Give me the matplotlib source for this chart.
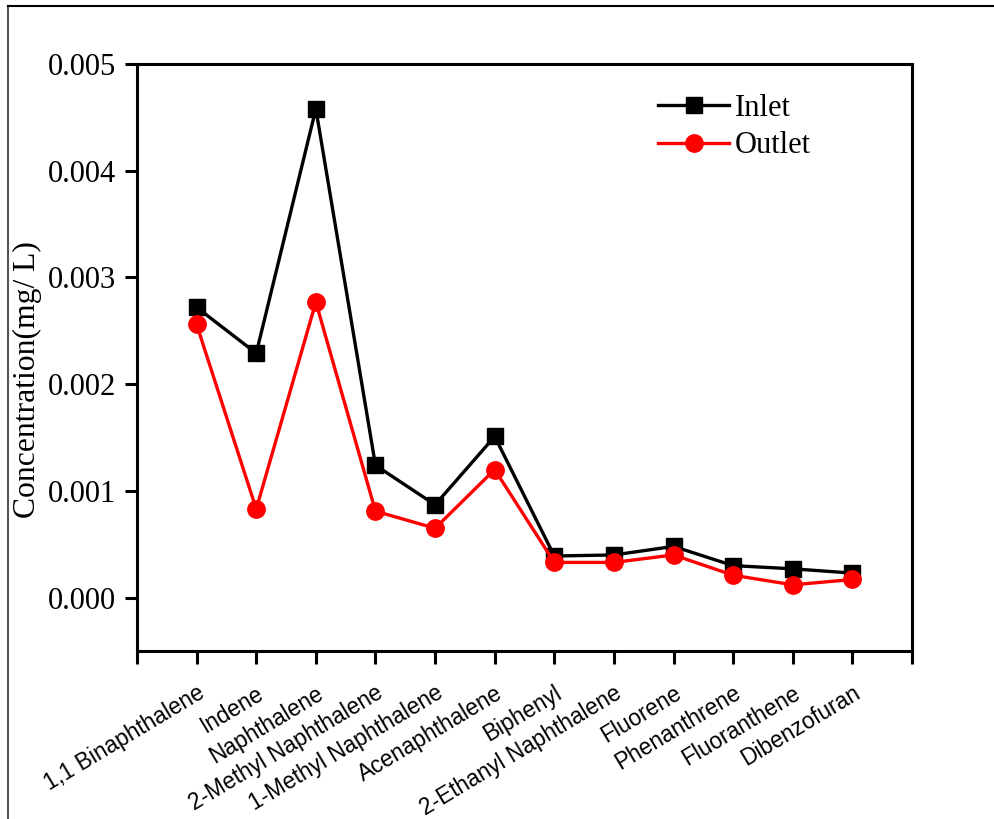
import matplotlib
matplotlib.use("Agg")
import matplotlib.pyplot as plt
from matplotlib.lines import Line2D

compounds = ["1,1 Binaphthalene", "Indene", "Naphthalene", "2-Methyl Naphthalene",
             "1-Methyl Naphthalene", "Acenaphthalene", "Biphenyl",
             "2-Ethanyl Naphthalene", "Fluorene", "Phenanthrene",
             "Fluoranthene", "Dibenzofuran"]
inlet = [0.00272, 0.00229, 0.00458, 0.00124, 0.00087, 0.00151,
         0.00039, 0.00040, 0.00048, 0.00030, 0.00027, 0.00023]
outlet = [0.00256, 0.00083, 0.00277, 0.00081, 0.00065, 0.00120,
          0.00033, 0.00033, 0.00040, 0.00021, 0.00012, 0.00017]
y_ticks = [0.000, 0.001, 0.002, 0.003, 0.004, 0.005]

fig = plt.figure(figsize=(9.95, 8.19), dpi=100)
ax = fig.add_axes([137/995, 1 - 651/819, (912-137)/995, (651-64)/819])

x = list(range(len(compounds)))
ax.plot(x, inlet, color="black", lw=2.4, marker="s", ms=11, label="Inlet")
ax.plot(x, outlet, color="red", lw=2.4, marker="o", ms=12.5, label="Outlet")

ax.set_xlim(-1, len(compounds))
ax.set_ylim(-0.0005, 0.005)
ax.set_yticks(y_ticks)
ax.set_yticklabels([f"{v:.3f}" for v in y_ticks], family="Liberation Serif", fontsize=22)
ax.set_xticks(range(-1, len(compounds) + 1))
ax.set_xticklabels([""] + compounds + [""], family="Liberation Sans", fontsize=16.3,
                   rotation=31, ha="right", va="top", rotation_mode="anchor")
ax.tick_params(axis="both", direction="out", width=2.2, length=9)
ax.tick_params(axis="x", pad=13)
ax.tick_params(axis="y", pad=6)
for s in ax.spines.values():
    s.set_linewidth(2.2)

ax.set_ylabel("Concentration(mg/ L)", family="Liberation Serif", fontsize=22.8)
ax.yaxis.set_label_coords(-0.122, 0.462)

leg = ax.legend(loc="upper left", bbox_to_anchor=(0.657, 0.97), frameon=False,
                prop={"family": "Liberation Serif", "size": 22},
                handlelength=2.3, handletextpad=0.2, labelspacing=0.28,
                borderaxespad=0)

# figure border lines (left and top)
fig.add_artist(Line2D([8/995, 8/995], [0, 1 - 6/819], transform=fig.transFigure,
                      color="#555555", lw=1.5))
fig.add_artist(Line2D([8/995, 1], [1 - 6/819, 1 - 6/819], transform=fig.transFigure,
                      color="black", lw=1.5))

fig.savefig("out.png", dpi=100)
